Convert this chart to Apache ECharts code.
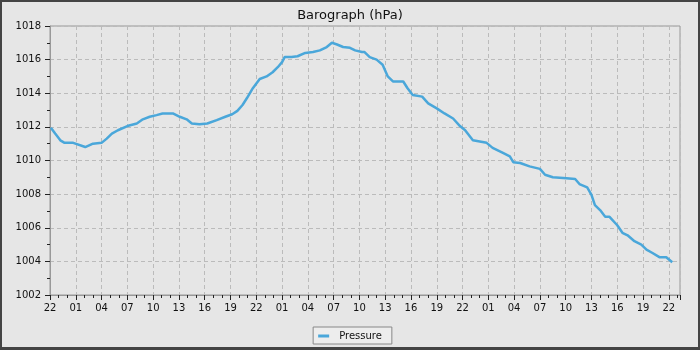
<!DOCTYPE html>
<html>
<head>
<meta charset="utf-8">
<script src="https://cdn.jsdelivr.net/npm/echarts@6/dist/echarts.min.js"></script>
<style>
  html, body { margin: 0; padding: 0; }
  #wrap { width: 700px; height: 350px; box-sizing: border-box; border-style: solid; border-color: #444; border-width: 2px 2px 3px 2px; background: #e6e6e6; }
  #main { width: 696px; height: 345px; }
</style>
</head>
<body>
<div id="wrap"><div id="main"></div></div>
<script>
// hours since 22:00 on the first day
var hours = [0.1, 0.6, 1.2, 1.7, 2.7, 4.1, 5.0, 6.0, 6.6, 7.2, 7.9, 9.0, 10.1, 10.8, 11.6, 12.4, 13.1, 14.3,
  15.1, 15.9, 16.5, 17.4, 18.3, 19.4, 20.4, 21.2, 21.8, 22.4, 22.9, 23.6, 24.4, 25.2, 25.9, 26.5, 27.0, 27.3,
  28.1, 28.8, 29.7, 30.6, 31.4, 32.2, 32.8, 33.4, 34.1, 34.9, 35.5, 36.3, 36.6, 37.2, 38.0, 38.7, 39.3, 39.9,
  41.1, 41.6, 42.2, 43.3, 44.0, 45.0, 45.9, 46.9, 47.7, 48.3, 49.2, 50.8, 51.5, 52.7, 53.5, 53.9, 54.7, 55.8,
  57.0, 57.6, 58.5, 60.1, 61.1, 61.6, 62.5, 63.0, 63.4, 64.0, 64.6, 65.1, 66.0, 66.6, 67.2, 68.0, 68.8, 69.4,
  70.1, 70.9, 71.7, 72.4];
var pressure = [1011.95, 1011.6, 1011.2, 1011.05, 1011.05, 1010.8, 1011.0, 1011.05, 1011.3, 1011.6, 1011.8, 1012.05,
  1012.2, 1012.45, 1012.6, 1012.7, 1012.8, 1012.8, 1012.6, 1012.45, 1012.2, 1012.15, 1012.2, 1012.4, 1012.6, 1012.75,
  1012.95, 1013.3, 1013.7, 1014.3, 1014.85, 1015.0, 1015.25, 1015.55, 1015.85, 1016.15, 1016.15, 1016.2, 1016.4,
  1016.45, 1016.55, 1016.75, 1017.0, 1016.9, 1016.75, 1016.7, 1016.55, 1016.45, 1016.45, 1016.15, 1016.0, 1015.7,
  1015.0, 1014.7, 1014.7, 1014.3, 1013.9, 1013.8, 1013.4, 1013.1, 1012.8, 1012.5, 1012.05, 1011.8, 1011.2, 1011.05,
  1010.75, 1010.45, 1010.25, 1009.9, 1009.85, 1009.65, 1009.5, 1009.15, 1009.0, 1008.95, 1008.9, 1008.6, 1008.4,
  1007.95, 1007.35, 1007.05, 1006.65, 1006.65, 1006.15, 1005.7, 1005.55, 1005.2, 1005.0, 1004.7, 1004.5, 1004.25,
  1004.25, 1003.95];
var startHour = 22;

var chartDom = document.getElementById('main');
var myChart = echarts.init(chartDom);
var font = 'DejaVu Sans';

var option = {
  animation: false,
  title: {
    text: 'Barograph (hPa)',
    left: 'center',
    top: 2,
    textStyle: { fontFamily: font, fontSize: 13, fontWeight: 'normal', color: '#111' }
  },
  legend: {
    data: [{ name: 'Pressure', icon: 'rect' }],
    left: 'center',
    top: 325,
    itemWidth: 11,
    itemHeight: 3,
    padding: [4, 10, 3, 5],
    borderColor: '#888',
    borderWidth: 1,
    borderRadius: 0,
    backgroundColor: '#ededed',
    textStyle: { fontFamily: font, fontSize: 10, color: '#111', padding: [0, 0, 0, 5] }
  },
  grid: {
    left: 48, top: 24, right: 18, bottom: 52,
    show: true, borderColor: '#999', borderWidth: 1, backgroundColor: 'transparent'
  },
  xAxis: {
    type: 'value',
    min: 0,
    max: 73.3,
    interval: 3,
    axisLine: { lineStyle: { color: '#999' } },
    axisTick: { length: 5, lineStyle: { color: '#222' } },
    minorTick: { show: true, splitNumber: 3, length: 3, lineStyle: { color: '#222' } },
    splitLine: { show: true, lineStyle: { color: '#bbb', type: [4, 3] } },
    axisLabel: {
      fontFamily: font, fontSize: 10, color: '#111', margin: 8,
      showMaxLabel: false,
      formatter: function (v) {
        if (Math.abs(v % 3) > 0.01) return '';
        var h = (startHour + v) % 24;
        return (h < 10 ? '0' : '') + h;
      }
    }
  },
  yAxis: {
    type: 'value',
    min: 1002,
    max: 1018,
    interval: 2,
    axisLine: { show: true, lineStyle: { color: '#999' } },
    axisTick: { show: true, length: 5, lineStyle: { color: '#222' } },
    minorTick: { show: true, splitNumber: 2, length: 3, lineStyle: { color: '#222' } },
    splitLine: { show: true, lineStyle: { color: '#bbb', type: [4, 3] } },
    axisLabel: {
      fontFamily: font, fontSize: 10, color: '#111', margin: 9,
      formatter: function (v) { return String(v); }
    }
  },
  series: [
    {
      name: 'Pressure',
      type: 'line',
      data: hours.map(function (h, i) { return [h, pressure[i]]; }),
      showSymbol: false,
      lineStyle: { color: '#4aa7da', width: 2.5 },
      itemStyle: { color: '#4aa7da' }
    }
  ]
};

option && myChart.setOption(option);
</script>
</body>
</html>
